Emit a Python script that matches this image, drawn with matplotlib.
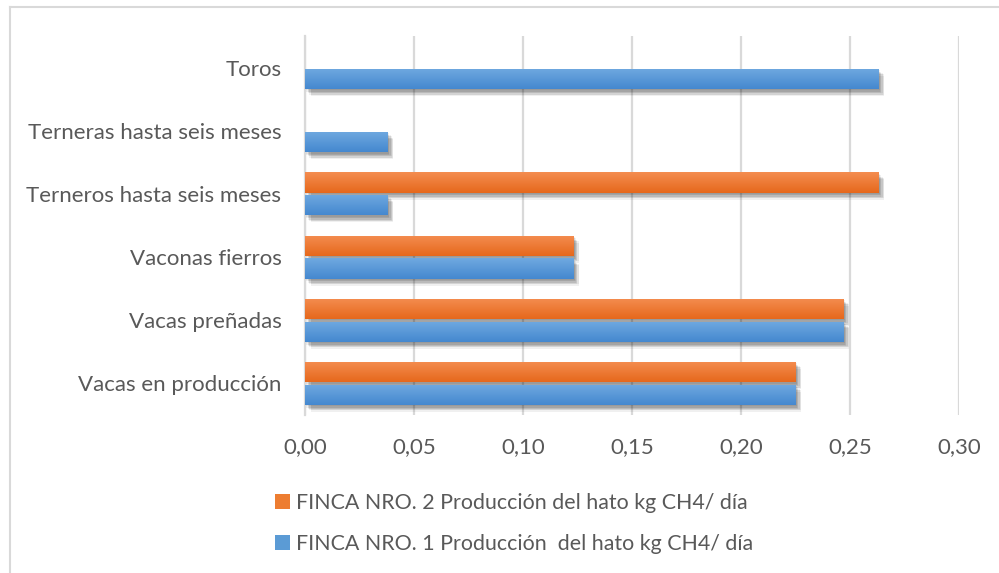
import matplotlib
matplotlib.use("Agg")
import matplotlib.pyplot as plt
import numpy as np
from matplotlib.patches import Rectangle
from matplotlib.lines import Line2D
import matplotlib.patheffects as pe
from matplotlib.colors import LinearSegmentedColormap

plt.rcParams['font.family'] = ['Lato', 'DejaVu Sans']

categories = ["Vacas en producción", "Vacas preñadas", "Vaconas fierros",
              "Terneros hasta seis meses", "Terneras hasta seis meses", "Toros"]
finca1 = [0.225, 0.247, 0.123, 0.038, 0.038, 0.263]
finca2 = [0.225, 0.247, 0.123, 0.263, np.nan, np.nan]
label1 = "FINCA NRO. 1 Producción  del hato kg CH4/ día"
label2 = "FINCA NRO. 2 Producción del hato kg CH4/ día"
xticks = [0.00, 0.05, 0.10, 0.15, 0.20, 0.25, 0.30]

W, H = 999, 573
fig = plt.figure(figsize=(W / 100, H / 100), dpi=100)
ax = fig.add_axes([305 / W, 1 - 415 / H, (959 - 305) / W, (415 - 36) / H])

text_color = "#595959"
grid_color = "#d9d9d9"
blue_top, blue_bot = "#6fa9e0", "#4588cf"
orange_top, orange_bot = "#f48d50", "#e6681c"

y = np.arange(len(categories))
h = 0.32
off = 0.18

shadow = [pe.SimplePatchShadow(offset=(dx, -dy), shadow_rgbFace="#000000", alpha=0.06)
          for dx, dy in [(1, 1), (2, 2), (3, 3), (4, 4), (2, 3), (3, 4), (1, 2), (4, 5)]]
shadow.append(pe.Normal())
bars1 = ax.barh(y - off, finca1, height=h, color="#5B9BD5", label=label1, zorder=3,
                path_effects=shadow)
bars2 = ax.barh(y + off, finca2, height=h, color="#ED7D31", label=label2, zorder=3,
                path_effects=shadow)

ax.set_xlim(0, 0.30)
ax.set_ylim(-0.5, len(categories) - 0.5)

# gradient overlay
def add_gradient(bars, top, bot):
    cmap = LinearSegmentedColormap.from_list("g", [bot, top])
    grad = np.linspace(0, 1, 64).reshape(-1, 1)
    for b in bars:
        w = b.get_width()
        if not np.isfinite(w) or w <= 0:
            continue
        x0, y0 = b.get_x(), b.get_y()
        im = ax.imshow(grad, cmap=cmap, aspect="auto", origin="lower",
                       extent=(x0, x0 + w, y0, y0 + b.get_height()), zorder=4,
                       interpolation="bilinear")
        im.set_clip_path(b)

add_gradient(bars1, blue_top, blue_bot)
add_gradient(bars2, orange_top, orange_bot)
ax.set_xlim(0, 0.30)
ax.set_ylim(-0.5, len(categories) - 0.5)

ax.set_xticks(xticks)
ax.set_xticklabels([f"{v:.2f}".replace(".", ",") for v in xticks])
ax.set_yticks(y)
ax.set_yticklabels(categories)
ax.tick_params(axis="both", length=0, labelsize=16, colors=text_color)
ax.tick_params(axis="x", pad=16)
ax.tick_params(axis="y", pad=17)

ax.grid(axis="x", color=grid_color, lw=1.6, zorder=0)
ax.set_axisbelow(True)
for s in ["top", "right", "bottom"]:
    ax.spines[s].set_visible(False)
ax.spines["left"].set_color(grid_color)
ax.spines["left"].set_linewidth(1.6)

# legend
handles = [Rectangle((0, 0), 1, 1, facecolor="#ED7D31"),
           Rectangle((0, 0), 1, 1, facecolor="#5B9BD5")]
leg = fig.legend(handles, [label2, label1], loc="upper left",
                 bbox_to_anchor=(264 / W, 1 - 482 / H), frameon=False,
                 fontsize=15.4, handlelength=0.7, handleheight=0.7,
                 handletextpad=0.3, labelspacing=1.0, borderpad=0)
for t in leg.get_texts():
    t.set_color(text_color)

# outer border (left and top visible)
fig.add_artist(Line2D([10 / W, 10 / W], [0, 1 - 7 / H], transform=fig.transFigure,
                      color=grid_color, lw=1.5))
fig.add_artist(Line2D([10 / W, 1], [1 - 7 / H, 1 - 7 / H], transform=fig.transFigure,
                      color=grid_color, lw=1.5))

fig.savefig("out.png", dpi=100)
